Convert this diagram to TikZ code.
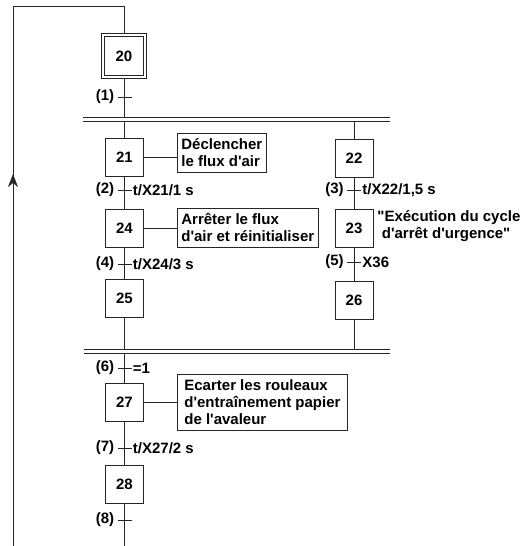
\documentclass[tikz,border=0pt]{standalone}
\usepackage{fontspec}
\setmainfont{Liberation Sans}[Ligatures=TeXOff]
\usetikzlibrary{arrows.meta}
\begin{document}
\begin{tikzpicture}[x=1pt,y=-1pt,line width=0.8pt,color=black!85,
  font=\fontsize{15}{17}\selectfont\bfseries,
  etape/.style={draw,text=black,minimum width=38pt,minimum height=38pt,inner sep=0pt},
  outerbox/.style={draw,minimum width=45pt,minimum height=45pt,inner sep=0pt},
  action/.style={draw,text=black,align=left,inner xsep=4pt,anchor=west},
  lbl/.style={inner sep=0pt,text=black}]
\useasboundingbox (0,0) rectangle (523,546);

% steps
\node[outerbox] (s20o) at (124,56) {};
\node[etape,minimum width=39pt,minimum height=39pt] (s20) at (124,56) {20};
\node[etape] (s21) at (124.5,157) {21};
\node[etape] (s24) at (124.5,228) {24};
\node[etape] (s25) at (124.5,298) {25};
\node[etape] (s22) at (354,158) {22};
\node[etape] (s23) at (354,228) {23};
\node[etape] (s26) at (354,300) {26};
\node[etape] (s27) at (124.5,402) {27};
\node[etape] (s28) at (124.5,484) {28};

% actions
\node[action,minimum height=39pt] (a21) at (177,152.5) {Déclencher\\le flux d'air};
\node[action,minimum height=39pt] (a24) at (177,227.5) {Arrêter le flux\\d'air et réinitialiser};
\node[action,minimum height=56pt,inner xsep=7pt] (a27) at (177,402) {Ecarter les rouleaux\\d'entraînement papier\\de l'avaleur\hspace*{55pt}};
\node[lbl,align=left,anchor=west] (a23) at (377,226.5) {"Exécution du cycle\\\hspace*{4.5pt}d'arrêt d'urgence"};

% action links
\draw (s21.east) -- (s21.east -| a21.west);
\draw (s24.east) -- (s24.east -| a24.west);
\draw (s27.east) -- (s27.east -| a27.west);

% double bars
\coordinate (dA1l) at (83,117); \coordinate (dA1r) at (390,117);
\coordinate (dA2l) at (83,121); \coordinate (dA2r) at (390,121);
\coordinate (dB1l) at (84,349); \coordinate (dB1r) at (390,349);
\coordinate (dB2l) at (84,353); \coordinate (dB2r) at (390,353);
\draw (dA1l) -- (dA1r);
\draw (dA2l) -- (dA2r);
\draw (dB1l) -- (dB1r);
\draw (dB2l) -- (dB2r);

% vertical links
\draw (s20o.south) -- (s20o.south |- dA1l);
\draw (s21.north |- dA2l) -- (s21.north);
\draw (s22.north |- dA2l) -- (s22.north);
\draw (s21.south) -- (s24.north);
\draw (s24.south) -- (s25.north);
\draw (s22.south) -- (s23.north);
\draw (s23.south) -- (s26.north);
\draw (s25.south) -- (s25.south |- dB1l);
\draw (s26.south) -- (s26.south |- dB1l);
\draw (s27.north |- dB2l) -- (s27.north);
\draw (s27.south) -- (s28.north);
\coordinate (bot) at (124.5,546);
\draw (s28.south) -- (bot);

% loop back
\coordinate (loopTL) at (13,6);
\coordinate (loopBL) at (13,546);
\draw (s20o.north) |- (loopTL) -- (loopBL);
\coordinate (arrS) at (13,200);
\coordinate (arrE) at (13,174);
\draw[-{Stealth[length=13pt,width=10pt,inset=4pt]}] (arrS) -- (arrE);

% transitions
\foreach \n/\x/\y/\t in {1/124.5/97/{},2/124.5/190/{t/X21/1 s},4/124.5/264/{t/X24/3 s},
  6/124.5/368/{=1},7/124.5/448/{t/X27/2 s},8/124.5/520/{},
  3/354/190/{t/X22/1,5 s},5/354/262/{X36}}{
  \coordinate (t\n) at (\x,\y);
  \draw ([xshift=-7pt]t\n) -- ([xshift=7pt]t\n);
  \node[lbl,anchor=east] (tn\n) at ([xshift=-10pt]t\n) {(\n)};
  \node[lbl,anchor=west] (tr\n) at ([xshift=8pt]t\n) {\t};
}
\end{tikzpicture}
\end{document}
